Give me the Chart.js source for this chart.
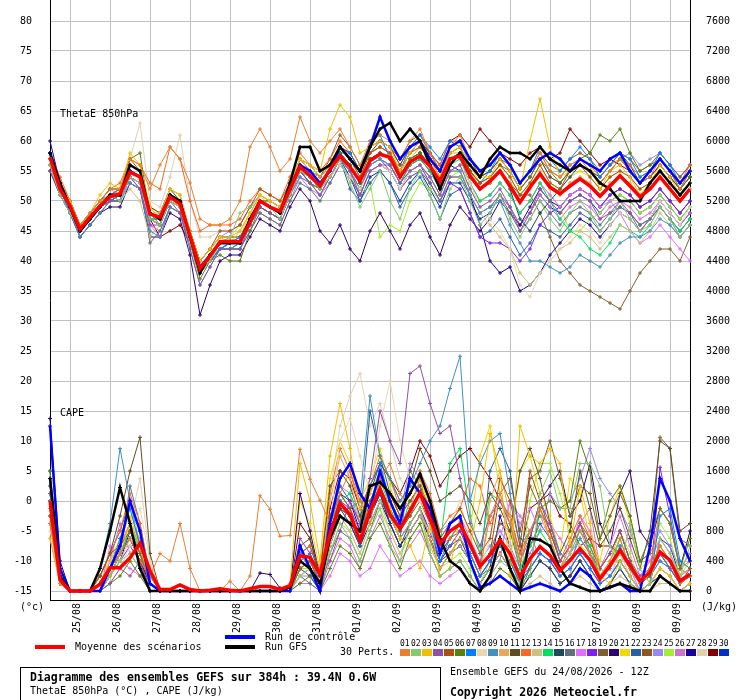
<!DOCTYPE html>
<html>
<head>
<meta charset="utf-8">
<script src="https://cdn.jsdelivr.net/npm/chart.js@4.4.0/dist/chart.umd.min.js"></script>
<style>
body { margin: 0; background: #fff; }
#wrap { position: relative; width: 740px; height: 700px; font-family: "DejaVu Sans Mono", monospace; font-size: 10px; color: #000; overflow: hidden; }
#chart { position: absolute; left: 0; top: 0; }
.t { position: absolute; white-space: pre; line-height: 10px; }
.bar { position: absolute; width: 30px; height: 4px; }
.num { position: absolute; font-size: 8px; line-height: 8px; }
.box { position: absolute; width: 10px; height: 7px; }
#foot { position: absolute; left: 20px; top: 667px; width: 419px; height: 40px; border: 1px solid #000; }
</style>
</head>
<body>
<div id="wrap">
  <canvas id="chart" width="740" height="700"></canvas>
  <div class="t" style="left:60px;top:109px">ThetaE 850hPa</div>
  <div class="t" style="left:60px;top:408px">CAPE</div>
  <div class="t" style="left:20px;top:602px">(°c)</div>
  <div class="t" style="left:701px;top:602px">(J/kg)</div>
  <div class="bar" style="left:35px;top:645px;background:#ff0000"></div>
  <div class="t" style="left:75px;top:642px">Moyenne des scénarios</div>
  <div class="bar" style="left:225px;top:635px;background:#0000ff"></div>
  <div class="t" style="left:265px;top:632px">Run de contrôle</div>
  <div class="bar" style="left:225px;top:645px;background:#000000"></div>
  <div class="t" style="left:265px;top:642px">Run GFS</div>
  <div class="t" style="left:340px;top:647px">30 Perts.</div>
  <div id="members"></div>
  <div id="foot"></div>
  <div class="t" style="left:30px;top:672px;font-weight:bold;font-size:11.5px">Diagramme des ensembles GEFS sur 384h : 39.4N 0.6W</div>
  <div class="t" style="left:30px;top:686px">ThetaE 850hPa (°C) , CAPE (J/kg)</div>
  <div class="t" style="left:450px;top:667px">Ensemble GEFS du 24/08/2026 - 12Z</div>
  <div class="t" style="left:450px;top:687px;font-weight:bold;font-size:11.5px">Copyright 2026 Meteociel.fr</div>
</div>
<script>
// forecast hours (6-hourly, 24/08 12Z + 0..384h)
const hours = [0,6,12,18,24,30,36,42,48,54,60,66,72,78,84,90,96,102,108,114,120,126,132,138,144,150,156,162,168,174,180,186,192,198,204,210,216,222,228,234,240,246,252,258,264,270,276,282,288,294,300,306,312,318,324,330,336,342,348,354,360,366,372,378,384];
const dayLabels = ['25/08','26/08','27/08','28/08','29/08','30/08','31/08','01/09','02/09','03/09','04/09','05/09','06/09','07/09','08/09','09/09'];
const leftTicks = [-15,-10,-5,0,5,10,15,20,25,30,35,40,45,50,55,60,65,70,75,80];
const rightTicks = [0,400,800,1200,1600,2000,2400,2800,3200,3600,4000,4400,4800,5200,5600,6000,6400,6800,7200,7600];

const memberColors = ['#e88030','#88c870','#f0c000','#9050a8','#b05010','#5a8010','#0080ff','#e8d8b0','#4090c0','#e8a858',
  '#604c20','#f86820','#d0c080','#00e060','#204860','#607080','#e070f8','#8020f0','#806030','#300070',
  '#f0d800','#2860a0','#905820','#9888f0','#a0f030','#d070d0','#1800a0','#e0d0b0','#800000','#0030c0'];

// ThetaE 850 hPa (°C)
const thetaMean = [57.3,52,49.2,45.3,47.3,49.2,50.7,51.2,54.8,54, 47.8,47.3,50.7,49.5,44.2,38.7,40.8,43.2,43.3,43.2, 46.5,50,49,48.3,52,55.7,54.2,52.5,55.3,57.5, 55.7,53.3,56.7,57.8,57.3,54,56.5,57.5,55.8,53.3, 57,57.5,54.2,52,53.3,55,52.5,49.8,52.3,54.5, 52.3,51.2,52.5,53.7,52.5,50.8,52.5,54.2,52.5,50.7, 52,54,52,50,52];
const thetaCtl = [58,53,49,45,47,49,51,51,55,54, 48,47,51,50,44,39,41,43,43,43, 47,50,49,48,52,56,55,53,55,59, 57,55,59,64,60,57,59,60,57,55, 59,60,57,55,56,58,56,53,55,57, 58,57,55,57,56,55,57,58,55,53, 55,57,55,53,55];
const thetaGfs = [58,53,49,45,47,49,51,51,56,55, 48,47,51,50,44,38,41,43,43,43, 47,50,49,48,53,59,59,55,56,59, 57,55,59,62,63,60,62,60,56,52, 56,58,56,54,57,59,58,58,57,59, 57,56,55,56,55,53,52,50,50,50, 53,55,53,51,53];
const thetaPerts = [
  [58,53,49,46,48,50,52,52,57,56, 52,56,59,57,53,47,46,46,47,50, 59,62,59,55,57,64,60,58,60,62, 59,56,60,61,60,57,60,62,58,55, 59,61,57,55,56,58,56,53,55,58, 55,54,56,57,55,53,55,57,55,53, 54,57,55,52,55],
  [56,51,48,45,48,50,51,50,54,53, 47,46,50,49,43,38,40,43,44,48, 49,50,49,47,51,55,54,52,54,57, 53,49,52,55,50,47,52,55,51,47, 52,54,50,46,48,51,47,44,47,50, 47,45,48,50,48,45,47,50,47,45, 46,49,47,44,46],
  [57,53,50,46,48,51,53,52,58,56, 49,47,52,51,45,40,42,44,43,45, 48,51,50,49,53,57,56,55,62,66, 64,58,59,60,59,55,58,60,57,54, 58,59,56,54,54,57,55,52,60,67, 59,54,55,57,56,52,55,56,54,51, 53,56,54,51,53],
  [55,51,48,45,47,49,50,50,54,52, 46,46,50,48,42,36,39,42,42,42, 46,49,48,47,51,55,53,51,54,57, 55,51,55,56,56,53,55,56,54,51, 55,56,52,49,50,52,49,45,48,52, 50,48,50,51,50,47,48,50,48,45, 47,49,47,44,46],
  [58,53,50,46,48,50,51,52,57,55, 48,46,51,50,45,40,42,45,45,46, 49,52,51,50,53,56,55,53,55,59, 57,54,58,59,58,55,58,59,57,54, 58,59,55,53,54,56,54,51,53,56, 53,52,55,56,54,52,54,55,54,52, 53,55,53,51,53],
  [56,52,49,45,47,49,50,50,57,58, 47,46,50,49,43,37,40,41,40,40, 45,49,48,47,51,55,53,52,55,58, 56,53,57,58,57,54,57,58,56,53, 57,58,55,53,54,56,55,52,54,57, 55,53,55,57,58,61,60,62,58,55, 56,57,55,52,54],
  [57,52,48,45,47,49,50,51,55,54, 47,47,51,50,44,38,40,42,43,44, 47,50,49,48,52,55,54,52,55,58, 58,55,60,61,57,55,59,61,59,57, 60,59,55,53,55,58,56,53,55,59, 57,55,57,59,57,54,56,58,57,54, 55,58,56,53,55],
  [56,52,49,45,47,49,51,51,56,55, 49,47,51,50,44,39,41,43,43,43, 47,50,49,48,52,55,54,52,54,56, 54,52,55,56,55,52,55,56,54,51, 55,56,53,49,47,45,42,36,34,38, 40,42,44,46,45,43,46,48,47,45, 47,50,48,46,49],
  [57,52,48,44,46,48,50,50,53,52, 45,44,49,48,42,36,39,42,42,42, 46,49,48,47,51,54,53,51,54,57, 55,52,56,57,56,53,55,56,54,51, 55,55,51,48,49,50,46,43,40,40, 39,38,39,41,40,39,41,43,44,44, 45,47,46,44,46],
  [58,53,49,46,48,50,51,52,56,55, 48,48,52,51,45,40,42,44,44,45, 48,51,50,49,53,57,55,54,56,59, 57,54,58,59,58,55,57,59,57,54, 58,58,55,52,53,55,53,50,52,55, 52,51,53,54,53,51,53,54,53,51, 52,54,52,50,52],
  [57,53,50,46,48,50,52,52,56,55, 49,48,52,50,45,40,42,44,44,44, 47,50,50,49,53,57,55,54,56,59, 58,55,58,60,59,56,59,60,58,55, 59,60,57,54,55,57,55,52,54,57, 54,53,55,56,55,53,55,57,55,53, 54,56,54,52,54],
  [58,54,50,46,48,50,52,53,57,56, 53,52,59,57,50,45,46,46,46,47, 50,52,51,50,54,58,56,55,57,60, 58,55,59,60,59,56,59,61,58,56, 60,60,57,55,56,58,56,53,55,58, 55,54,56,57,56,54,56,57,56,54, 55,57,55,53,56],
  [56,51,48,45,47,49,50,50,52,50, 44,46,50,49,43,38,40,43,43,43, 46,49,48,47,51,55,53,52,54,57, 55,52,56,57,56,53,55,56,54,51, 55,55,51,48,46,44,42,38,36,38, 40,42,43,45,44,42,44,46,45,43, 45,48,46,44,46],
  [57,52,49,45,47,49,51,51,55,54, 47,47,51,50,44,39,41,42,42,43, 46,49,48,47,51,55,54,52,54,57, 55,52,56,57,56,53,56,57,55,52, 56,57,53,50,51,53,51,48,50,53, 50,47,45,44,42,41,43,46,45,44, 46,49,47,45,47],
  [57,52,49,45,47,49,50,51,55,54, 48,47,51,50,44,39,41,43,43,43, 47,50,49,48,52,56,54,53,55,58, 56,53,57,58,57,54,57,58,56,53, 57,58,54,52,53,55,52,47,45,48, 50,52,54,56,55,54,56,58,56,53, 55,57,55,52,54],
  [56,51,48,44,46,48,50,50,54,53, 43,45,49,48,43,38,40,42,42,42, 45,48,47,46,50,53,52,50,53,56, 54,51,55,56,55,52,54,55,53,50, 54,54,51,48,49,51,48,45,47,50, 48,46,48,49,48,46,48,49,48,46, 47,49,47,45,47],
  [56,52,49,45,48,50,52,51,55,54, 46,44,49,48,43,38,41,43,43,44, 47,49,48,47,51,54,53,51,54,56, 54,51,55,56,55,52,55,56,54,51, 55,56,53,50,51,53,51,48,50,53, 51,49,51,52,51,49,50,48,45,43, 44,46,44,42,40],
  [56,51,48,45,47,49,51,50,54,53, 47,46,50,49,43,38,40,42,43,43, 46,49,48,47,51,55,53,52,54,57, 55,52,56,57,55,52,55,56,53,50, 53,52,48,44,43,43,42,40,42,46, 48,49,51,52,51,49,51,52,51,49, 50,52,50,48,50],
  [57,52,49,45,47,49,51,51,55,54, 48,47,51,50,44,39,41,43,43,43, 47,50,49,48,52,56,54,53,55,58, 56,53,57,58,57,54,57,58,56,53, 57,58,54,52,53,55,53,51,51,48, 44,40,38,36,35,34,33,32,35,38, 40,42,42,40,44],
  [55,51,48,44,46,48,49,49,53,52, 44,44,48,47,41,31,36,40,41,41, 44,47,46,45,49,52,50,45,43,46, 42,40,45,48,45,42,46,48,44,41, 46,49,47,45,47,50,48,46,49,52, 50,49,51,52,51,49,51,52,51,49, 50,52,50,48,50],
  [58,53,50,46,48,50,52,52,57,56, 49,48,52,51,45,40,42,44,44,44, 48,51,50,49,53,57,56,54,56,59, 57,54,58,59,58,55,58,59,57,54, 58,59,56,53,54,56,54,51,53,56, 53,52,54,55,54,52,54,55,54,52, 53,55,53,51,53],
  [57,52,48,45,47,49,51,51,55,54, 48,47,51,50,44,39,41,43,43,43, 47,50,49,48,52,55,54,52,54,57, 52,50,53,55,53,49,52,54,51,47, 51,52,48,44,45,47,44,41,43,46, 45,44,46,48,47,45,47,49,48,46, 47,49,47,45,47],
  [57,53,49,46,48,50,51,51,55,54, 48,47,51,50,44,39,41,43,43,43, 47,50,49,48,52,57,56,54,57,61, 59,56,59,60,59,57,60,61,58,55, 58,59,56,54,55,57,56,53,55,58, 56,55,57,58,57,55,57,58,57,55, 56,58,56,54,56],
  [57,52,49,45,48,50,51,52,56,55, 49,48,52,51,45,40,42,44,45,46, 49,51,50,49,53,57,56,54,56,59, 58,55,59,60,58,55,58,60,57,55, 59,60,56,54,55,57,55,52,54,57, 54,53,55,56,55,53,55,57,58,56, 57,58,56,54,56],
  [56,51,48,45,47,49,50,51,55,54, 48,47,51,50,44,39,41,43,44,46, 49,51,49,48,52,55,54,52,54,57, 55,51,53,44,46,45,50,53,52,50, 54,55,52,50,51,53,51,48,50,53, 51,49,45,45,47,48,50,51,50,48, 49,51,49,47,49],
  [56,51,48,44,46,48,50,50,54,52, 46,45,49,48,43,38,40,42,42,42, 45,48,47,46,50,54,52,51,53,56, 54,51,55,56,55,52,54,55,53,50, 54,54,51,48,49,51,49,46,48,51, 49,47,49,50,49,47,49,50,49,47, 48,50,48,46,48],
  [60,53,49,45,47,49,50,51,56,55, 47,46,51,50,44,38,40,42,42,43, 46,49,48,47,51,55,53,52,54,57, 55,52,56,57,56,53,56,57,55,52, 56,55,51,46,40,38,39,35,36,38, 41,43,45,47,46,44,46,48,47,45, 47,50,48,46,48],
  [58,53,49,46,48,50,52,52,57,63, 50,49,54,61,50,44,44,45,45,46, 49,51,50,49,53,56,55,53,55,58, 56,53,57,58,57,54,57,58,56,53, 57,58,54,52,53,55,53,50,52,55, 52,51,53,54,53,51,53,54,53,51, 52,54,52,50,52],
  [57,53,50,46,48,50,51,52,56,55, 47,44,45,46,43,38,41,43,43,44, 47,50,49,48,52,56,55,54,56,59, 58,55,58,59,58,55,58,60,58,56, 60,61,59,62,60,58,57,56,58,59, 57,58,62,60,58,56,57,56,55,53, 54,56,54,52,55],
  [57,52,49,45,47,49,50,51,55,54, 48,47,51,50,44,38,40,42,43,43, 47,50,49,48,52,55,54,52,54,57, 54,50,54,55,53,50,53,55,52,49, 53,53,50,47,48,51,49,46,48,51, 49,48,50,51,50,48,50,51,50,48, 49,51,49,47,49]
];

// CAPE (J/kg)
const capeMean = [1200,150,0,0,0,90,310,310,440,640, 270,20,20,80,20,0,10,30,10,0, 30,60,60,20,70,470,450,220,760,1170, 1020,670,1070,1360,1020,830,1070,1310,970,630, 800,890,630,330,480,680,500,180,430,590, 475,270,410,565,410,160,340,545,340,135, 250,520,410,135,225];
const capeCtl = [2200,300,0,0,0,0,300,600,1200,800, 100,0,0,0,0,0,0,0,0,0, 0,0,0,0,0,600,300,0,900,1500, 1700,1300,1100,1600,1200,900,1500,1300,1100,500, 900,1000,400,50,100,200,100,0,50,100, 50,0,100,300,200,0,50,100,0,0, 600,1500,1200,700,400];
const capeGfs = [1500,200,0,0,0,300,800,1380,900,300, 0,0,0,0,0,0,0,0,0,0, 0,0,0,0,50,400,300,100,700,1000, 900,800,1400,1450,1300,1100,1300,1560,1200,700, 400,300,100,0,200,700,300,0,700,680, 600,300,100,50,0,0,50,100,50,0, 0,200,100,0,0];
const capePerts = [
  [900,100,0,0,0,100,300,500,700,400, 200,500,400,900,300,0,0,0,130,0, 200,1270,1090,730,740,1890,1490,1210,900,1300, 1600,1200,900,1500,1700,1300,1100,1500,900,600, 700,900,600,300,1000,1300,900,400,800,1100, 700,300,600,800,500,200,400,700,300,100, 300,600,400,100,200],
  [1100,200,0,0,0,0,200,400,500,300, 0,0,0,0,0,0,0,0,0,0, 0,0,0,0,0,200,300,100,500,900, 700,400,800,1100,600,400,900,1100,500,200, 300,400,200,0,200,400,300,100,200,1300, 1600,1100,1100,1700,1700,1400,600,300,900,300, 100,700,500,200,600],
  [700,100,0,0,0,0,200,500,900,600, 100,0,0,0,0,0,0,0,0,0, 0,0,0,0,100,1700,1200,400,1800,2500, 1900,1100,1300,1600,1100,700,600,300,900,200, 300,1000,600,1200,2100,1600,200,2200,1800,1700, 1900,1700,600,1400,900,200,100,400,200,0, 100,300,200,0,100],
  [1300,300,0,0,0,0,100,300,200,400, 0,0,0,0,0,0,0,0,0,0, 0,0,0,0,0,700,500,200,400,800, 1200,900,1500,2400,2000,1700,2900,3000,2500,2100, 2200,1500,900,600,1000,1200,900,400,700,1200, 900,400,600,900,500,300,500,800,400,200, 300,500,300,100,200],
  [1000,200,0,0,0,200,500,600,800,500, 100,0,0,0,0,0,0,0,0,0, 0,0,0,0,0,300,400,100,1000,1300, 1100,700,1200,1500,1300,1000,1200,1400,1100,700, 900,1100,800,500,700,1500,1200,600,1600,1200, 800,400,600,900,700,300,500,800,400,100, 200,500,400,100,300],
  [1600,100,0,0,0,0,100,200,400,200, 0,0,0,0,0,0,0,0,0,0, 0,0,0,0,0,100,200,0,300,600, 500,300,700,900,600,300,700,900,500,200, 300,400,200,0,100,300,200,0,300,1100, 1200,1100,1200,2000,1600,700,1200,1400,1000,400, 700,1100,900,300,700],
  [1200,200,0,0,0,0,300,700,1100,600, 100,0,0,0,0,0,0,0,0,0, 0,0,0,0,0,400,500,100,800,1200, 1000,600,1400,1700,1200,800,1100,1300,900,400, 700,900,500,200,400,600,400,100,300,500, 400,200,300,500,300,100,200,400,200,0, 100,1000,1100,400,300],
  [800,100,0,0,0,0,100,300,600,1100, 400,0,0,0,0,0,0,0,0,0, 0,0,0,0,0,200,300,100,900,2000, 2300,1800,1300,2200,2800,2000,1500,1200,800,500, 900,1200,700,300,700,1300,600,200,400,600, 500,200,300,600,400,100,200,500,200,0, 100,300,200,0,100],
  [1400,300,0,0,0,300,900,1900,1200,600, 200,0,0,0,0,0,0,0,0,0, 0,0,0,0,0,500,300,0,700,1300, 1100,1200,2600,1800,1500,1200,1400,1700,2000,2200, 2700,3130,1200,1700,2000,2100,1300,600,800,1000, 900,500,400,700,500,200,300,600,300,100, 200,400,300,100,200],
  [1000,200,0,0,0,100,400,600,900,700, 200,0,0,0,0,0,0,0,0,0, 0,0,0,0,0,300,400,100,1200,1800, 1500,900,1100,1400,1000,700,900,1100,700,300, 500,700,500,200,1200,1600,1000,400,800,1000, 700,300,500,700,500,200,300,500,200,0, 100,1100,900,300,200],
  [1100,100,0,0,0,200,500,1000,1600,2050, 500,0,0,0,0,0,0,0,0,0, 0,0,0,0,0,600,700,200,1400,1600, 1400,1000,1300,1700,1500,1200,1400,1900,1600,1200, 1300,1400,1200,900,1300,1100,800,1600,1900,1500, 900,500,800,1600,1100,600,800,1100,700,300, 800,2000,1900,800,900],
  [900,200,0,0,0,200,500,800,1300,900, 200,0,0,0,0,0,0,0,0,0, 0,0,0,0,0,500,600,300,1300,1900, 1600,1100,1400,1800,1500,1100,1300,1600,1300,800, 1000,1100,1500,1400,900,1200,1000,500,800,1100, 800,400,700,1000,700,300,500,800,400,100, 300,1100,900,300,400],
  [1200,200,0,0,0,0,200,400,700,500, 100,0,0,0,0,0,0,0,0,0, 0,0,0,0,0,200,300,0,600,1000, 800,500,900,1200,800,500,800,1000,600,300, 500,600,400,100,300,500,300,0,100,200, 100,0,100,200,100,0,100,200,100,0, 0,100,100,0,0],
  [1300,200,0,0,0,100,300,500,800,600, 100,0,0,0,0,0,0,0,0,0, 0,0,0,0,0,300,400,100,900,1200, 1300,1000,1100,1500,1100,800,1200,1400,1000,600, 1700,1900,1000,500,1300,1200,900,300,600,800, 600,300,500,800,600,200,300,700,300,100, 200,500,300,100,200],
  [1500,300,0,0,0,0,200,500,700,400, 0,0,0,0,0,0,0,0,0,0, 0,0,0,0,0,300,200,0,700,1100, 900,600,1000,1300,900,600,900,1100,700,400, 500,700,400,100,300,500,300,0,200,400, 300,100,200,400,200,0,100,300,100,0, 100,300,200,0,100],
  [1000,100,0,0,0,0,200,500,1400,900, 200,0,0,0,0,0,0,0,0,0, 0,0,0,0,0,200,100,0,500,800, 700,400,800,1200,1000,700,1600,1400,900,500, 600,700,500,200,300,500,300,100,200,400, 300,100,200,400,200,0,100,300,100,0, 100,200,100,0,100],
  [700,100,0,0,0,0,600,400,300,200, 100,0,0,0,0,0,0,0,0,0, 0,0,0,0,0,100,100,0,200,500, 400,200,300,600,400,200,300,400,200,100, 200,300,100,0,100,700,1200,900,1100,800, 900,700,500,1000,800,300,600,1000,600,200, 400,700,500,200,300],
  [1100,200,0,0,0,0,200,400,600,400, 0,0,0,0,0,0,0,0,0,0, 0,0,0,0,0,300,400,100,800,1200, 1100,800,1000,1300,1000,700,900,1100,800,400, 600,800,500,200,400,700,500,200,300,500, 400,200,300,500,300,100,200,400,200,0, 100,1650,1000,300,200],
  [1400,200,0,0,0,100,300,600,800,500, 100,0,0,0,0,0,0,0,0,0, 0,0,0,0,0,400,300,100,700,1100, 1000,700,1100,1400,1100,800,1000,1300,900,500, 700,900,600,300,500,900,800,300,1500,1600, 2000,1500,1000,1400,1300,700,1000,1300,1000,400, 500,2050,1900,700,600],
  [1200,100,0,0,0,0,300,500,700,400, 100,0,0,0,0,0,0,0,0,0, 0,240,220,40,0,1300,800,200,900,1300, 1200,800,1000,1300,900,600,800,1000,700,300, 500,600,400,100,300,1000,600,200,700,1200, 1400,1600,1000,1200,1700,900,600,1300,1600,800, 600,1100,900,300,800],
  [1300,200,0,0,0,200,400,700,1000,600, 100,0,0,0,0,0,0,0,0,0, 0,0,0,0,0,1200,900,300,1500,2000, 1700,1200,1500,1900,1400,1000,1300,1500,1100,600, 900,1100,800,1800,2200,1300,700,1600,1800,1300, 1000,500,1500,1300,700,400,1000,1400,900,300, 400,700,500,200,300],
  [1600,300,0,0,0,200,500,800,1200,800, 100,0,0,0,0,0,0,0,0,0, 0,0,0,0,0,500,600,200,1000,1400, 1200,900,2400,1800,1300,1000,1200,1400,1000,600, 800,900,600,300,1600,1900,1600,700,600,900, 700,300,500,700,500,200,300,600,300,100, 200,400,300,100,200],
  [1100,200,0,0,0,100,300,600,900,600, 100,0,0,0,0,0,0,0,0,0, 0,0,0,0,0,300,400,100,700,1100, 1000,700,1100,1300,1100,800,1000,1200,900,500, 700,800,600,300,500,1300,1500,800,1400,1100, 800,400,600,900,600,300,500,800,400,100, 300,600,400,100,200],
  [1200,200,0,0,0,0,300,600,900,500, 0,0,0,0,0,0,0,0,0,0, 0,0,0,0,0,400,500,200,900,1400, 1300,900,1200,1500,1300,1000,1700,1500,1200,800, 900,1000,700,400,600,800,600,300,500,800, 1300,1100,1200,1500,1900,1500,1300,1100,800,400, 500,800,600,300,500],
  [1000,100,0,0,0,0,200,500,700,400, 100,0,0,0,0,0,0,0,0,0, 0,0,0,0,0,300,300,0,500,900, 800,500,900,1100,800,500,700,900,600,300, 400,500,300,100,400,600,400,100,1200,1700, 1700,1300,800,600,500,200,400,800,500,100, 300,900,700,200,400],
  [900,100,0,0,0,0,400,900,500,300, 100,0,0,0,0,0,0,0,0,0, 0,0,0,0,0,200,200,0,400,700, 600,300,700,1000,700,400,600,800,500,200, 300,400,200,0,200,400,1200,1000,800,400, 300,100,200,900,1100,300,200,500,300,0, 100,300,200,0,100],
  [2300,400,0,0,0,0,200,400,800,500, 100,0,0,0,0,0,0,0,0,0, 0,0,0,0,0,200,300,0,600,1000, 900,600,900,1200,900,600,800,1000,700,300, 500,600,400,100,300,500,300,0,200,400, 300,100,200,400,200,0,100,300,100,0, 100,200,100,0,100],
  [1100,200,0,0,0,0,300,600,900,1500, 400,0,0,0,0,0,0,0,0,0, 0,0,0,0,0,500,600,200,1300,2200, 2600,2900,2200,2500,2000,1500,1300,1600,1200,700, 900,1000,700,300,500,700,500,200,400,600, 500,200,300,500,300,100,200,400,200,0, 100,300,200,0,100],
  [1300,200,0,0,0,100,300,500,700,400, 100,0,0,0,0,0,0,0,0,0, 0,0,0,0,0,900,700,200,1100,1600, 1500,1100,1400,1700,1500,1300,1600,2000,1800,1400, 1600,1800,1900,1700,1500,1200,1000,500,1100,1200, 1300,1000,900,600,700,600,600,500,300,100, 200,500,300,100,200],
  [1500,300,0,0,0,0,200,500,800,500, 100,0,0,0,0,0,0,0,0,0, 0,0,0,0,0,300,300,100,700,1100, 1000,700,1000,1300,1000,700,900,1100,800,400, 600,700,500,200,400,600,400,100,300,500, 400,200,300,500,300,100,200,400,200,0, 100,700,600,200,300]
];

// legend swatches for the 30 members
const mem = document.getElementById('members');
memberColors.forEach((c, i) => {
  const n = document.createElement('div');
  n.className = 'num';
  n.style.left = (400 + i * 11) + 'px';
  n.style.top = '640px';
  n.textContent = String(i + 1).padStart(2, '0');
  mem.appendChild(n);
  const b = document.createElement('div');
  b.className = 'box';
  b.style.left = (400 + i * 11) + 'px';
  b.style.top = '649px';
  b.style.background = c;
  mem.appendChild(b);
});

const line = (label, data, color, width, axis, order, radius) => ({
  label: label,
  data: data,
  yAxisID: axis,
  borderColor: color,
  backgroundColor: color,
  borderWidth: width,
  pointStyle: 'cross',
  pointRadius: radius,
  pointBorderWidth: 1,
  tension: 0,
  fill: false,
  order: order
});

let datasets = [];
datasets.push(line('Moyenne ThetaE', thetaMean, '#ff0000', 3.5, 'y', 0, 0));
datasets.push(line('Moyenne CAPE', capeMean, '#ff0000', 3.5, 'y2', 0, 0));
datasets.push(line('GFS ThetaE', thetaGfs, '#000000', 2.5, 'y', 1, 2));
datasets.push(line('GFS CAPE', capeGfs, '#000000', 2.5, 'y2', 1, 2));
datasets.push(line('Contrôle ThetaE', thetaCtl, '#0000ff', 2.5, 'y', 1, 2));
datasets.push(line('Contrôle CAPE', capeCtl, '#0000ff', 2.5, 'y2', 1, 2));
for (let i = 0; i < 30; i++) {
  const tag = 'P' + String(i + 1).padStart(2, '0');
  datasets.push(line(tag + ' ThetaE', thetaPerts[i], memberColors[i], 1, 'y', 2, 2));
  datasets.push(line(tag + ' CAPE', capePerts[i], memberColors[i], 1, 'y2', 2, 2));
}

const isDay = (i) => i >= 2 && (i - 2) % 4 === 0;
const tickFont = { family: 'DejaVu Sans Mono', size: 10 };
const noPad = (s) => { s.paddingTop = 0; s.paddingBottom = 0; s.paddingLeft = 0; s.paddingRight = 0; };

new Chart(document.getElementById('chart'), {
  type: 'line',
  data: { labels: hours, datasets: datasets },
  options: {
    responsive: false,
    animation: false,
    events: [],
    layout: { padding: 0, autoPadding: false },
    plugins: { legend: { display: false }, tooltip: { enabled: false } },
    scales: {
      x: {
        type: 'category',
        offset: false,
        afterFit: (s) => { s.height = 100; noPad(s); },
        grid: {
          color: (c) => isDay(c.index) ? '#c0c0c0' : 'rgba(0,0,0,0)',
          drawTicks: true,
          tickLength: 2
        },
        border: { color: '#000', width: 1 },
        ticks: {
          autoSkip: false,
          maxRotation: 90,
          minRotation: 90,
          padding: 1,
          labelOffset: 7,
          color: '#000',
          font: tickFont,
          callback: (v, i) => isDay(i) ? dayLabels[(i - 2) / 4] : ''
        }
      },
      y: {
        position: 'left',
        min: -16.5,
        max: 83.5,
        afterFit: (s) => { s.width = 50; noPad(s); },
        afterBuildTicks: (s) => { s.ticks = leftTicks.map(v => ({ value: v })); },
        grid: { color: '#c0c0c0', drawTicks: false },
        border: { color: '#000', width: 1 },
        ticks: { padding: 18, color: '#000', font: tickFont, callback: (v) => String(v) }
      },
      y2: {
        position: 'right',
        min: -120,
        max: 7880,
        afterFit: (s) => { s.width = 50; noPad(s); },
        afterBuildTicks: (s) => { s.ticks = rightTicks.map(v => ({ value: v })); },
        grid: { display: false, drawTicks: false },
        border: { color: '#000', width: 1 },
        ticks: { padding: 16, color: '#000', font: tickFont, callback: (v) => String(v) }
      }
    }
  }
});
</script>
</body>
</html>
